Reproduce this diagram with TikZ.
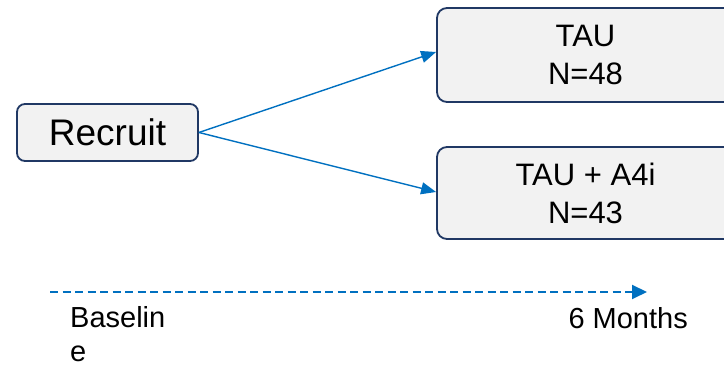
\documentclass[tikz,border=0pt]{standalone}
\usepackage{fontspec}
\setmainfont{Liberation Sans}
\usetikzlibrary{arrows.meta}
\definecolor{linkblue}{HTML}{0070C0}
\definecolor{boxedge}{HTML}{203864}
\definecolor{boxfill}{HTML}{F2F2F2}
\tikzset{
  stepbox/.style={draw=boxedge, fill=boxfill, line width=1.8pt, inner sep=0pt, align=center},
  link/.style={draw=linkblue, line width=1.4pt, -{Triangle[length=15pt,width=12pt]}},
  timeline/.style={draw=linkblue, line width=2pt, dash pattern=on 8pt off 4.5pt, -{Triangle[length=15pt,width=14pt]}},
  lbl/.style={inner sep=0pt, align=left}
}
\begin{document}
\begin{tikzpicture}[x=1pt,y=1pt]
\useasboundingbox (0,0) rectangle (724,366);
\node[stepbox, rounded corners=8pt, minimum width=181pt, minimum height=57pt,
      font=\fontsize{37}{42}\selectfont] (rec) at (107.5,233.5) {Recruit};
\node[stepbox, rounded corners=10pt, minimum width=297pt, minimum height=94pt,
      font=\fontsize{31}{38}\selectfont] (tau) at (585.5,311) {\raisebox{-2pt}{TAU}\\\raisebox{-2pt}{N=48}};
\node[stepbox, rounded corners=10pt, minimum width=297pt, minimum height=92pt,
      font=\fontsize{31}{38}\selectfont] (a4i) at (585.5,173) {TAU + A4i\\N=43};
\draw[link] (rec.east) -- ([yshift=3pt]tau.west);
\draw[link] (rec.east) -- ([yshift=1pt]a4i.west);
\coordinate (t0) at (50,74);
\coordinate (t1) at (647,74);
\draw[timeline] (t0) -- (t1);
\node[lbl, anchor=base west, font=\fontsize{29}{34}\selectfont] (base) at (70,4) {Baselin\\e\vphantom{}};
\node[lbl, anchor=base east, font=\fontsize{29}{35}\selectfont] (six) at (688,37) {6 Months};
\end{tikzpicture}
\end{document}
